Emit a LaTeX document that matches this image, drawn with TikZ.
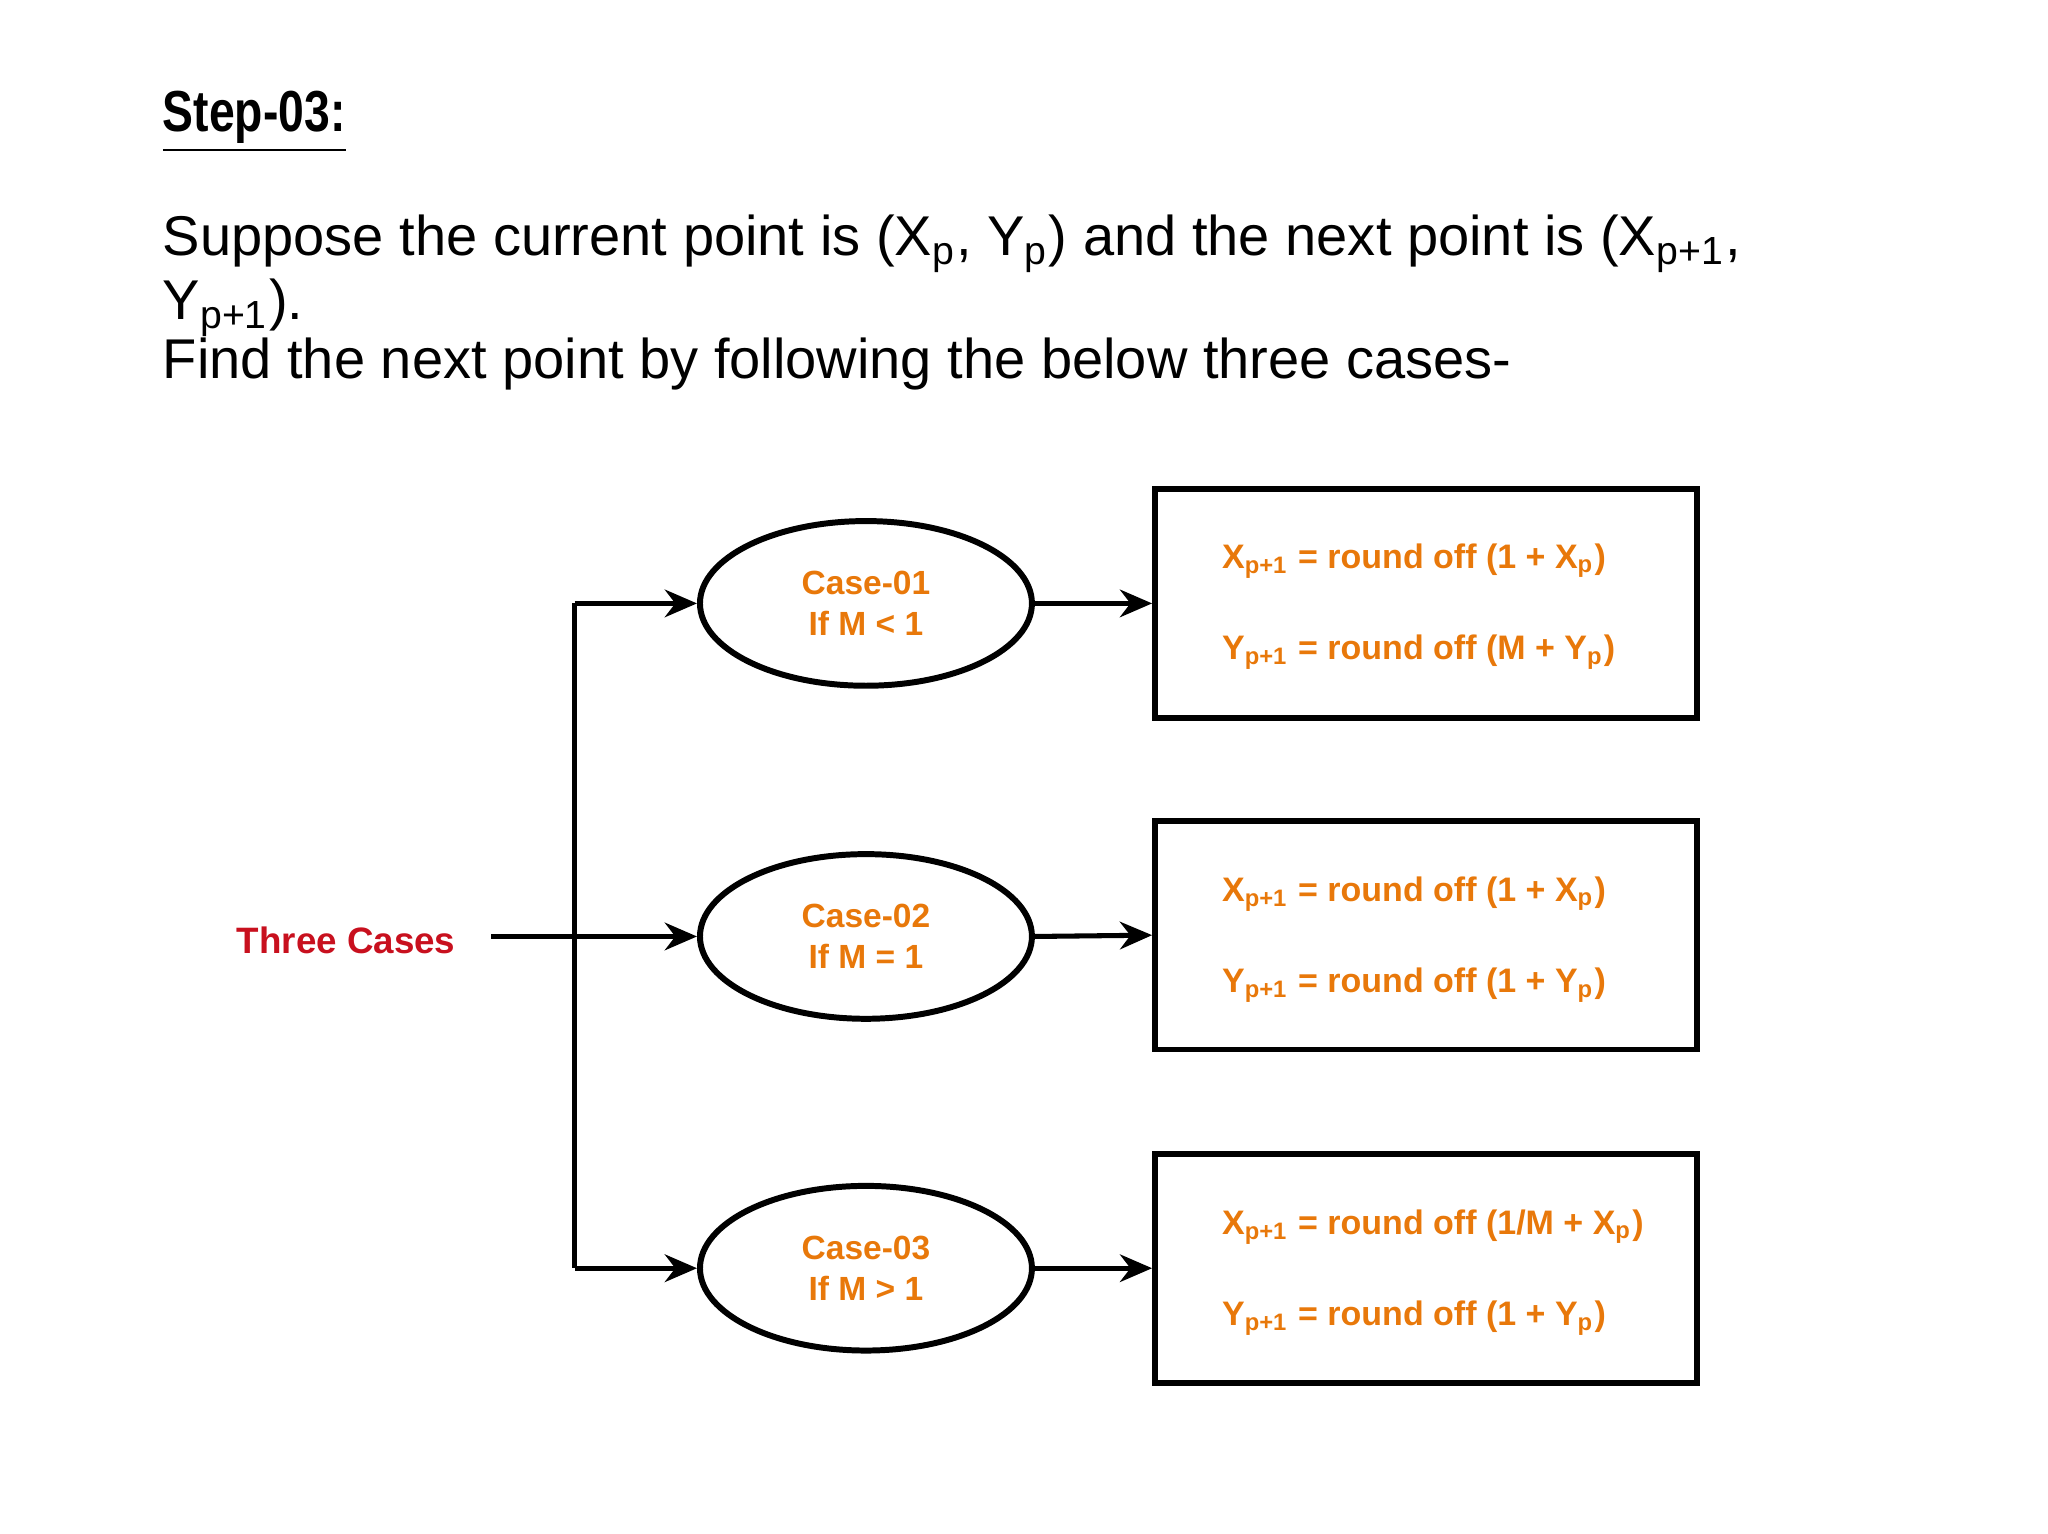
\documentclass[tikz,border=0pt]{standalone}
\usepackage{fontspec}
\setmainfont{Liberation Sans}
\usetikzlibrary{shapes.geometric,arrows.meta}
\definecolor{orng}{HTML}{E8780A}
\definecolor{redc}{HTML}{C8101E}
\begin{document}
\begin{tikzpicture}[x=0.01cm,y=-0.01cm,
  ell/.style={draw,line width=1.3pt,ellipse,minimum width=2.54cm,minimum height=1.26cm,inner sep=0pt,align=center,font=\fontsize{7.3}{9}\selectfont\bfseries,text=orng},
  rbox/.style={draw,line width=1.3pt,minimum width=4.15cm,minimum height=1.75cm,inner sep=0pt},
  eq/.style={anchor=base west,inner sep=0pt,font=\fontsize{7.4}{9}\selectfont\bfseries,text=orng},
  body/.style={anchor=base west,inner sep=0pt,font=\fontsize{12.2}{14}\selectfont},
  arr/.style={line width=1.1pt,-{Stealth[length=7pt,width=6pt]}}]
\useasboundingbox (0,0) rectangle (1568,1174);
\node[anchor=base west,inner sep=0pt,font=\fontsize{12.6}{14}\selectfont\bfseries] (title) at (124,101) {\underline{\addfontfeature{FakeStretch=0.8}Step-03:}};
\node[body] (l1) at (124,196) {Suppose the current point is (X\textsubscript{p}, Y\textsubscript{p}) and the next point is (X\textsubscript{p+1},};
\node[body] (l2) at (124,245) {Y\textsubscript{p+1}).};
\node[body] (l3) at (124,290) {Find the next point by following the below three cases-};

\node[font=\fontsize{8}{10}\selectfont\bfseries,text=redc] (tc) at (265,720) {Three Cases};
\node[ell] (e1) at (663,462) {Case-01\\If M < 1};
\node[ell] (e2) at (663,717) {Case-02\\If M = 1};
\node[ell] (e3) at (663,971) {Case-03\\If M > 1};
\node[rbox] (b1) at (1092,462) {};
\node[rbox] (b2) at (1092,716) {};
\node[rbox] (b3) at (1092,971) {};
\coordinate (j1) at (440,462);
\coordinate (j3) at (440,971);
\coordinate (s) at (376,717);
\draw[line width=1.1pt] (j1) -- (j3);
\draw[arr] (j1) -- (e1.west);
\draw[arr] (j3) -- (e3.west);
\draw[arr] (s) -- (e2.west);
\draw[arr] (e1.east) -- (b1.west);
\draw[arr] (e2.east) -- (b2.west);
\draw[arr] (e3.east) -- (b3.west);
\node[eq] at (935,435) {X\textsubscript{p+1} = round off (1 + X\textsubscript{p})};
\node[eq] at (935,505) {Y\textsubscript{p+1} = round off (M + Y\textsubscript{p})};
\node[eq] at (935,690) {X\textsubscript{p+1} = round off (1 + X\textsubscript{p})};
\node[eq] at (935,760) {Y\textsubscript{p+1} = round off (1 + Y\textsubscript{p})};
\node[eq] at (935,945) {X\textsubscript{p+1} = round off (1/M + X\textsubscript{p})};
\node[eq] at (935,1015) {Y\textsubscript{p+1} = round off (1 + Y\textsubscript{p})};
\end{tikzpicture}
\end{document}
